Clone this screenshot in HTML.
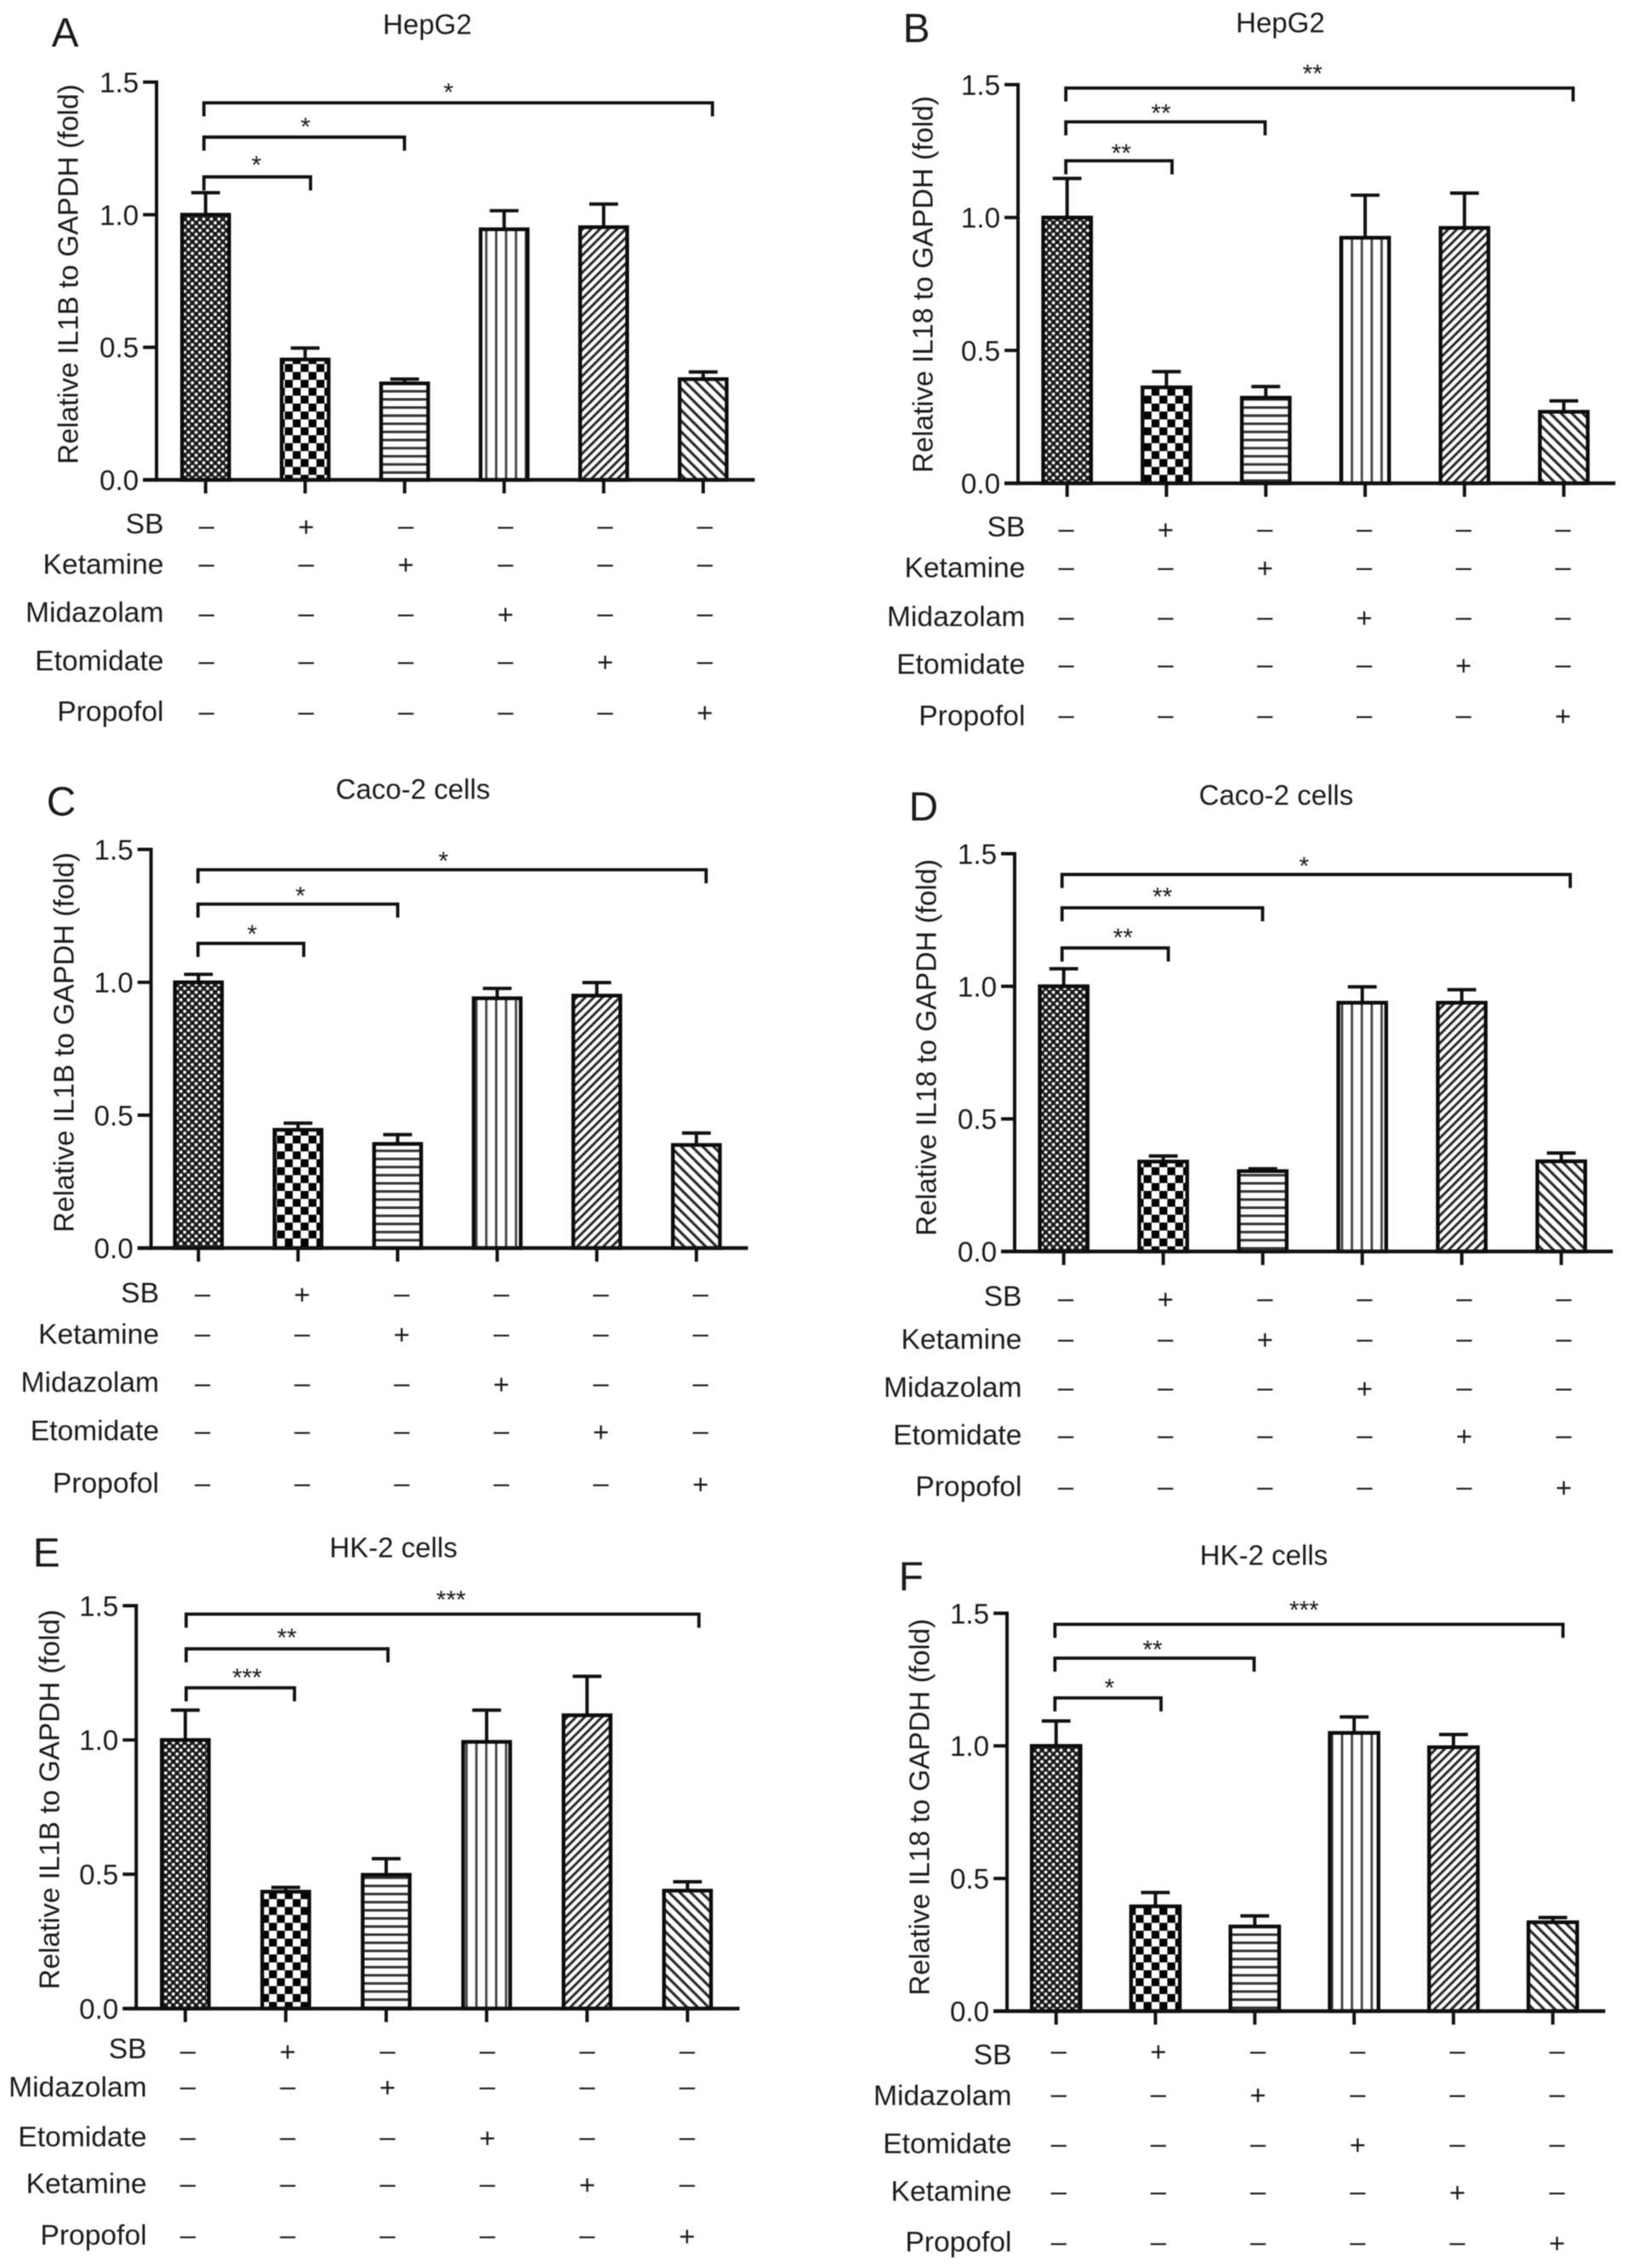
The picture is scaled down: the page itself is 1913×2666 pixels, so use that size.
<!DOCTYPE html>
<html lang="en">
<head>
<meta charset="utf-8">
<title>Relative IL1B and IL18 expression by cell line</title>
<style>
html,body{margin:0;padding:0;background:#fff}
svg{display:block;filter:blur(0.5px)}
text{font-family:"Liberation Sans",sans-serif;fill:#1c1c1c}
</style>
</head>
<body>
<svg id="figure" xmlns="http://www.w3.org/2000/svg" width="1913" height="2666" viewBox="0 0 1913 2666">
  <defs>
    <pattern id="p0" width="9" height="9" patternUnits="userSpaceOnUse">
      <rect width="9" height="9" fill="#1c1c1c"/><rect x="0.6" y="0.6" width="3.4" height="3.4" fill="#fff"/><rect x="5.1" y="5.1" width="3.4" height="3.4" fill="#fff"/>
    </pattern>
    <pattern id="p1" width="18.7" height="18.7" patternUnits="userSpaceOnUse">
      <rect width="18.7" height="18.7" fill="#fff"/><rect width="9.35" height="9.35" fill="#000"/><rect x="9.35" y="9.35" width="9.35" height="9.35" fill="#000"/>
    </pattern>
    <pattern id="p2" width="10" height="9.6" patternUnits="userSpaceOnUse">
      <rect width="10" height="9.6" fill="#fff"/><rect width="10" height="3" fill="#333"/>
    </pattern>
    <pattern id="p3" width="11.7" height="10" patternUnits="userSpaceOnUse">
      <rect width="11.7" height="10" fill="#fff"/><rect width="2.8" height="10" fill="#444"/>
    </pattern>
    <pattern id="p4" width="7.2" height="7.2" patternUnits="userSpaceOnUse" patternTransform="rotate(45)">
      <rect width="7.2" height="7.2" fill="#fff"/><rect width="3" height="7.2" fill="#2a2a2a"/>
    </pattern>
    <pattern id="p5" width="9" height="9" patternUnits="userSpaceOnUse" patternTransform="rotate(-45)">
      <rect width="9" height="9" fill="#fff"/><rect width="3.2" height="9" fill="#2a2a2a"/>
    </pattern>
  </defs>
</svg>
<script>
const tickLabels = ['0.0', '0.5', '1.0', '1.5'];
const tickValues = [0, 0.5, 1.0, 1.5];
const axisMax = 1.5;

const rowsStandard = ['SB', 'Ketamine', 'Midazolam', 'Etomidate', 'Propofol'];
const rowsAlternate = ['SB', 'Midazolam', 'Etomidate', 'Ketamine', 'Propofol'];
const activeColumn = [1, 2, 3, 4, 5];

const valuesA = [1.0, 0.454, 0.364, 0.945, 0.953, 0.38];
const errorsA = [0.083, 0.043, 0.016, 0.07, 0.087, 0.027];
const valuesB = [1.0, 0.361, 0.322, 0.924, 0.961, 0.269];
const errorsB = [0.147, 0.059, 0.042, 0.16, 0.131, 0.041];
const valuesC = [1.0, 0.445, 0.392, 0.94, 0.95, 0.388];
const errorsC = [0.03, 0.025, 0.035, 0.037, 0.049, 0.045];
const valuesD = [1.0, 0.339, 0.303, 0.938, 0.938, 0.34];
const errorsD = [0.066, 0.021, 0.009, 0.06, 0.049, 0.031];
const valuesE = [1.0, 0.435, 0.498, 0.993, 1.092, 0.439];
const errorsE = [0.111, 0.016, 0.06, 0.118, 0.145, 0.033];
const valuesF = [1.0, 0.395, 0.319, 1.049, 0.995, 0.335];
const errorsF = [0.094, 0.052, 0.04, 0.06, 0.048, 0.018];

const layoutScale = 1560 / 1568;

const panels = [
  {id:'a', ox:0, oy:0, letter:'A', lx:61, ly:55, title:'HepG2', tx:505, ty:40, ylabel:'Relative IL1B to GAPDH (fold)', ylx:92, yly:324,
   ax:185, y0:567, yTop:97, axEnd:892, c0:243, step:117.6, w:60, values:valuesA, errors:errorsA,
   rows:rowsStandard, rowRight:193.5, rowY:[622,667,726,782,842], labelDy:[-3,0,-2,-1,-1], s0:244, sStep:117.8,
   bx1:241, brackets:[[121.5,842,530,102,'*'],[162,478,361,143,'*'],[209,367,303,188,'*']]},
  {id:'b', ox:1000, oy:0, letter:'B', lx:1062, ly:50, title:'HepG2', tx:1508, ty:38, ylabel:'Relative IL18 to GAPDH (fold)', ylx:1097, yly:336,
   ax:1198, y0:571, yTop:100, axEnd:1904, c0:1256, step:117.4, w:61, values:valuesB, errors:errorsB,
   rows:rowsStandard, rowRight:1206.5, rowY:[626,671,730,786,846], labelDy:[-3,0,-1,-1,0], s0:1255, sStep:117.4,
   bx1:1254.5, brackets:[[104,1854,1546,80,'**'],[144,1490,1367,127,'**'],[190,1380,1320,174,'**']]},
  {id:'c', ox:0, oy:900, letter:'C', lx:55, ly:959, title:'Caco-2 cells', tx:488, ty:939, ylabel:'Relative IL1B to GAPDH (fold)', ylx:87, yly:1227,
   ax:178.5, y0:1470, yTop:999, axEnd:884, c0:234.5, step:117.7, w:60, values:valuesC, errors:errorsC,
   rows:rowsStandard, rowRight:188, rowY:[1525,1572,1631,1687,1749], labelDy:[-2,0,-2,-1,-1], s0:239.4, sStep:117.7,
   bx1:234, brackets:[[1023,834.5,524,1005.5,'*'],[1063.6,470,355,1046.6,'*'],[1110,359,298,1092,'*']]},
  {id:'d', ox:1000, oy:900, letter:'D', lx:1069, ly:965, title:'Caco-2 cells', tx:1503, ty:946, ylabel:'Relative IL18 to GAPDH (fold)', ylx:1101, yly:1233,
   ax:1194, y0:1474, yTop:1004, axEnd:1901, c0:1252, step:117.6, w:61, values:valuesD, errors:errorsD,
   rows:rowsStandard, rowRight:1202.5, rowY:[1530.5,1578,1636,1692,1753], labelDy:[-3,0,-1,-1,-1], s0:1254.5, sStep:117.7,
   bx1:1250, brackets:[[1028.6,1850.6,1536,1011.7,'*'],[1068,1487,1368.6,1048,'**'],[1115.4,1375.6,1322,1096,'**']]},
  {id:'e', ox:0, oy:1780, letter:'E', lx:39, ly:1842, title:'HK-2 cells', tx:465, ty:1831, ylabel:'Relative IL1B to GAPDH (fold)', ylx:70, yly:2117,
   ax:161, y0:2364, yTop:1888, axEnd:874, c0:219, step:118.7, w:60, values:valuesE, errors:errorsE,
   rows:rowsAlternate, rowRight:173.5, rowY:[2415,2457,2517,2572,2633], labelDy:[-3,0,-1,-1,-1], s0:222, sStep:118,
   bx1:220, brackets:[[1898,826,533,1874,'***'],[1939,458.5,339,1918.6,'**'],[1985,348,292,1966,'***']]},
  {id:'f', ox:1000, oy:1780, letter:'F', lx:1057, ly:1870, title:'HK-2 cells', tx:1488.5, ty:1840, ylabel:'Relative IL18 to GAPDH (fold)', ylx:1093, yly:2126,
   ax:1185, y0:2367, yTop:1897, axEnd:1892, c0:1243, step:117.4, w:62, values:valuesF, errors:errorsF,
   rows:rowsAlternate, rowRight:1190.5, rowY:[2415,2466,2525,2581,2641], labelDy:[4,1,-1,-1,-1], s0:1246, sStep:117.8,
   bx1:1241.6, brackets:[[1910,1842,1536,1886,'***'],[1950,1477,1357,1933,'**'],[1997,1367,1306,1978,'*']]}
];

const SVG_NS = 'http://www.w3.org/2000/svg';
const figure = document.getElementById('figure');

function mk(parent, tag, attrs, content) {
  const node = document.createElementNS(SVG_NS, tag);
  for (const key in attrs) node.setAttribute(key, attrs[key]);
  if (content !== undefined) node.textContent = content;
  parent.appendChild(node);
  return node;
}

function yScale(p, v) {
  return p.y0 - (v / axisMax) * (p.y0 - p.yTop);
}
function xScale(p, i) {
  return p.c0 + i * p.step;
}

panels.forEach(function (p) {
  const g = mk(figure, 'g', {transform: 'translate(' + p.ox + ' ' + p.oy + ') scale(' + layoutScale + ') translate(' + (-p.ox) + ' ' + (-p.oy) + ')'});
  
  

  const letter = mk(g, 'text', {x: p.lx, y: p.ly, 'font-size': 48}, p.letter);
  
  

  const title = mk(g, 'text', {x: p.tx, y: p.ty, 'font-size': 33.2, 'text-anchor': 'middle'}, p.title);
  
  

  const yTitle = mk(g, 'text', {x: p.ylx, y: p.yly, 'font-size': 33.4, 'text-anchor': 'middle',
    transform: 'rotate(-90 ' + p.ylx + ' ' + p.yly + ')'}, p.ylabel);
  
  

  p.values.forEach(function (v, i) {
    const cx = xScale(p, i);
    const top = yScale(p, v);
    const errTop = yScale(p, v + p.errors[i]);

    const stem = mk(g, 'line', {x1: cx, x2: cx, y1: top, y2: errTop, stroke: '#111', 'stroke-width': 4});
    
    

    const cap = mk(g, 'line', {x1: cx - 17, x2: cx + 17, y1: errTop, y2: errTop, stroke: '#111', 'stroke-width': 4});
    
    

    const bar = mk(g, 'rect', {x: cx - p.w / 2 + 2.2, y: top, width: p.w - 4.4, height: p.y0 - top,
      fill: 'url(#p' + i + ')', stroke: '#0c0c0c', 'stroke-width': 4.4});
    
    

    const xTick = mk(g, 'line', {x1: cx, x2: cx, y1: p.y0, y2: p.y0 + 16, stroke: '#111', 'stroke-width': 4});
    
    
  });

  const yAxis = mk(g, 'line', {x1: p.ax, x2: p.ax, y1: p.yTop - 2, y2: p.y0 + 2, stroke: '#111', 'stroke-width': 4});
  
  

  const xAxis = mk(g, 'line', {x1: p.ax - 16, x2: p.axEnd, y1: p.y0, y2: p.y0, stroke: '#111', 'stroke-width': 4.4});
  
  

  tickValues.forEach(function (t, i) {
    const ty = yScale(p, t);
    const tick = mk(g, 'line', {x1: p.ax - 16, x2: p.ax, y1: ty, y2: ty, stroke: '#111', 'stroke-width': 4});
    
    

    const label = mk(g, 'text', {x: p.ax - 21, y: ty + 12, 'font-size': 33.4, 'text-anchor': 'end'}, tickLabels[i]);
    
    
  });

  p.brackets.forEach(function (b, i) {
    const path = mk(g, 'path', {d: 'M' + p.bx1 + ' ' + (b[0] + 16) + 'V' + b[0] + 'H' + b[1] + 'V' + (b[0] + 16),
      fill: 'none', stroke: '#111', 'stroke-width': 3.8});
    
    

    const star = mk(g, 'text', {x: b[2], y: b[3] + 17, 'font-size': 30, 'text-anchor': 'middle'}, b[4]);
    
    
  });

  p.rows.forEach(function (name, r) {
    const cy = p.rowY[r];
    const rowLabel = mk(g, 'text', {x: p.rowRight, y: cy + 11 + p.labelDy[r], 'font-size': 33.8, 'text-anchor': 'end'}, name);
    
    

    p.values.forEach(function (v, c) {
      const on = activeColumn[r] === c;
      const sign = mk(g, 'text', {x: p.s0 + c * p.sStep, y: cy + (on ? 11.5 : 9.5), 'font-size': 33,
        'text-anchor': 'middle'}, on ? '+' : '\u2013');
      
      
    });
  });
});
</script>
</body>
</html>
